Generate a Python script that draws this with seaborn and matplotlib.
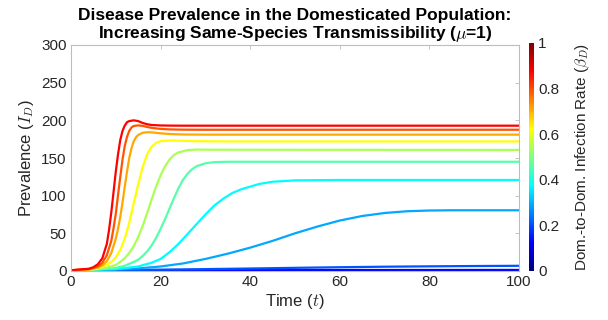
import numpy as np
import pandas as pd
import matplotlib
matplotlib.use("Agg")
import matplotlib.pyplot as plt
from matplotlib.colors import LinearSegmentedColormap, Normalize
from matplotlib.cm import ScalarMappable
import seaborn as sns

# ---------------- data ----------------
betas = [0.1, 0.2, 0.3, 0.4, 0.5, 0.6, 0.7, 0.8, 0.9, 1.0]

t_01 = [0, 50, 100]
I_01 = [1, 1.3, 1.4]

t_02 = [0, 10, 20, 30, 40, 50, 60, 70, 80, 90, 100]
I_02 = [1, 1.3, 1.8, 2.5, 3.3, 4.2, 5, 5.7, 6.2, 6.6, 6.9]

t_03 = [0, 10, 15, 20, 25, 30, 35, 40, 45, 50, 55, 60, 65, 70, 75, 80, 85, 100]
I_03 = [1, 2, 3.5, 6, 10, 16, 23, 31, 40, 50, 59, 67, 73, 77, 79.3, 80.3, 80.6, 80.6]

t_04 = [0, 10, 15, 18, 20, 22, 24, 26, 28, 30, 32, 34, 36, 38, 40, 42, 45, 50, 60, 100]
I_04 = [1, 2.5, 6, 11, 16, 25, 36, 49, 62, 75, 87, 96, 103.5, 108.5, 112, 115.5, 118.5, 120.3, 120.8, 120.8]

t_05 = [0, 5, 10, 12, 14, 15, 16, 17, 18, 19, 20, 21, 22, 23, 24, 25, 26, 27, 28, 30, 32, 35, 100]
I_05 = [1, 1.5, 4, 7, 12, 15, 20, 26, 34, 44, 56, 69, 83, 97, 110, 121, 129, 135, 139, 143, 144.5, 145, 145]

t_06 = [0, 5, 8, 10, 11, 12, 13, 14, 15, 16, 17, 18, 19, 20, 21, 22, 23, 24, 26, 28, 32, 100]
I_06 = [1, 2, 4.5, 8, 12, 17, 24, 33, 45, 60, 77, 95, 112, 127, 139, 148, 154, 157.5, 160.5, 161.2, 161, 160.7]

t_07 = [0, 4, 6, 8, 9, 10, 11, 12, 13, 14, 15, 16, 17, 18, 19, 20, 22, 24, 28, 35, 100]
I_07 = [1, 2, 3.5, 8, 12, 18, 28, 43, 64, 90, 115, 138, 155, 165, 170, 172.5, 173.3, 173, 172.3, 172, 172]

t_08 = [0, 4, 6, 7, 8, 9, 10, 10.5, 11, 11.5, 12, 12.5, 13, 13.5, 14, 14.5, 15, 16, 17, 18, 20, 22, 25, 30, 100]
I_08 = [1, 2, 4.5, 7.5, 13, 24, 43, 56, 72, 91, 112, 132, 150, 163, 172, 177.5, 180.5, 183.5, 184.2, 184, 182.8, 181.8, 181.2, 181, 181]

t_09 = [0, 4, 6, 7, 8, 9, 9.5, 10, 10.5, 11, 11.5, 12, 12.5, 13, 13.5, 14, 15, 16, 17, 18, 20, 22, 25, 30, 100]
I_09 = [1, 2.5, 6, 11, 21, 40, 57, 76, 101, 125, 148, 166, 178, 186, 190.5, 192.5, 193.3, 192.6, 191.2, 190, 188.6, 188, 187.6, 187.5, 187.5]

t_10 = [0, 4, 5, 6, 7, 8, 8.5, 9, 9.5, 10, 10.5, 11, 11.5, 12, 12.5, 13, 14, 15, 16, 17, 18, 20, 22, 25, 30, 100]
I_10 = [1, 3, 5, 9, 17, 36, 55, 78, 105, 132, 155, 174, 186, 193, 197.5, 199, 200, 199, 196.5, 194.8, 193.8, 193.2, 193, 192.9, 192.9, 192.9]

x_ticks = [0, 20, 40, 60, 80, 100]
y_ticks = [0, 50, 100, 150, 200, 250, 300]
cb_ticks = [0, 0.2, 0.4, 0.6, 0.8, 1]

series_t = [t_01, t_02, t_03, t_04, t_05, t_06, t_07, t_08, t_09, t_10]
series_I = [I_01, I_02, I_03, I_04, I_05, I_06, I_07, I_08, I_09, I_10]

rows = []
for b, ts, Is in zip(betas, series_t, series_I):
    for t, v in zip(ts, Is):
        rows.append((b, t, v))
df = pd.DataFrame(rows, columns=["beta", "t", "I"])

# ---------------- style ----------------
sns.set_style("white")
plt.rcParams["font.family"] = ["Liberation Sans", "DejaVu Sans"]
plt.rcParams["mathtext.fontset"] = "cm"

# MATLAB-like jet colormap
jet_m = LinearSegmentedColormap.from_list(
    "jet_matlab",
    [(0.0, (0, 0, 0.5)), (0.125, (0, 0, 1)), (0.375, (0, 1, 1)),
     (0.625, (1, 1, 0)), (0.875, (1, 0, 0)), (1.0, (0.5, 0, 0))], N=256)

palette = {b: jet_m(0.125 + (b - 0.1) * 0.8333) for b in betas}

fig = plt.figure(figsize=(6.08, 3.2), dpi=100)
ax = fig.add_axes([71 / 608, 1 - 271 / 320, (519 - 71) / 608, (271 - 45) / 320])

sns.lineplot(data=df, x="t", y="I", hue="beta", palette=palette,
             estimator=None, sort=False, legend=False, linewidth=1.6, ax=ax)

ax.set_xlim(0, 100)
ax.set_ylim(0, 300)
ax.set_xticks(x_ticks)
ax.set_yticks(y_ticks)
ax.tick_params(direction="in", length=3, width=0.6, color="#bdbdbd",
               labelsize=11, labelcolor="#262626", top=True, right=True,
               pad=3)
for s in ax.spines.values():
    s.set_visible(True)
    s.set_color("#bdbdbd")
    s.set_linewidth(0.8)

ax.set_xlabel("Time ($t$)", fontsize=12, color="#262626", labelpad=2)
ax.set_ylabel("Prevalence ($I_D$)", fontsize=12, color="#262626", labelpad=4)
ax.set_title("Disease Prevalence in the Domesticated Population:\n"
             "Increasing Same-Species Transmissibility ($\\mu$=1)",
             fontsize=12.5, fontweight="bold", color="black", pad=5,
             linespacing=1.1)

# colorbar
cax = fig.add_axes([529 / 608, 1 - 271 / 320, 5 / 608, (271 - 43) / 320])
sm = ScalarMappable(norm=Normalize(0, 1), cmap=jet_m)
cb = fig.colorbar(sm, cax=cax, ticks=cb_ticks)
cb.set_ticklabels(["0", "0.2", "0.4", "0.6", "0.8", "1"])
cb.outline.set_visible(False)
cax.tick_params(length=0, labelsize=11, labelcolor="#262626", pad=3)
cb.set_label("Dom.-to-Dom. Infection Rate ($\\beta_D$)", fontsize=11,
             color="#262626", labelpad=10)

fig.savefig("out.png", dpi=100)
